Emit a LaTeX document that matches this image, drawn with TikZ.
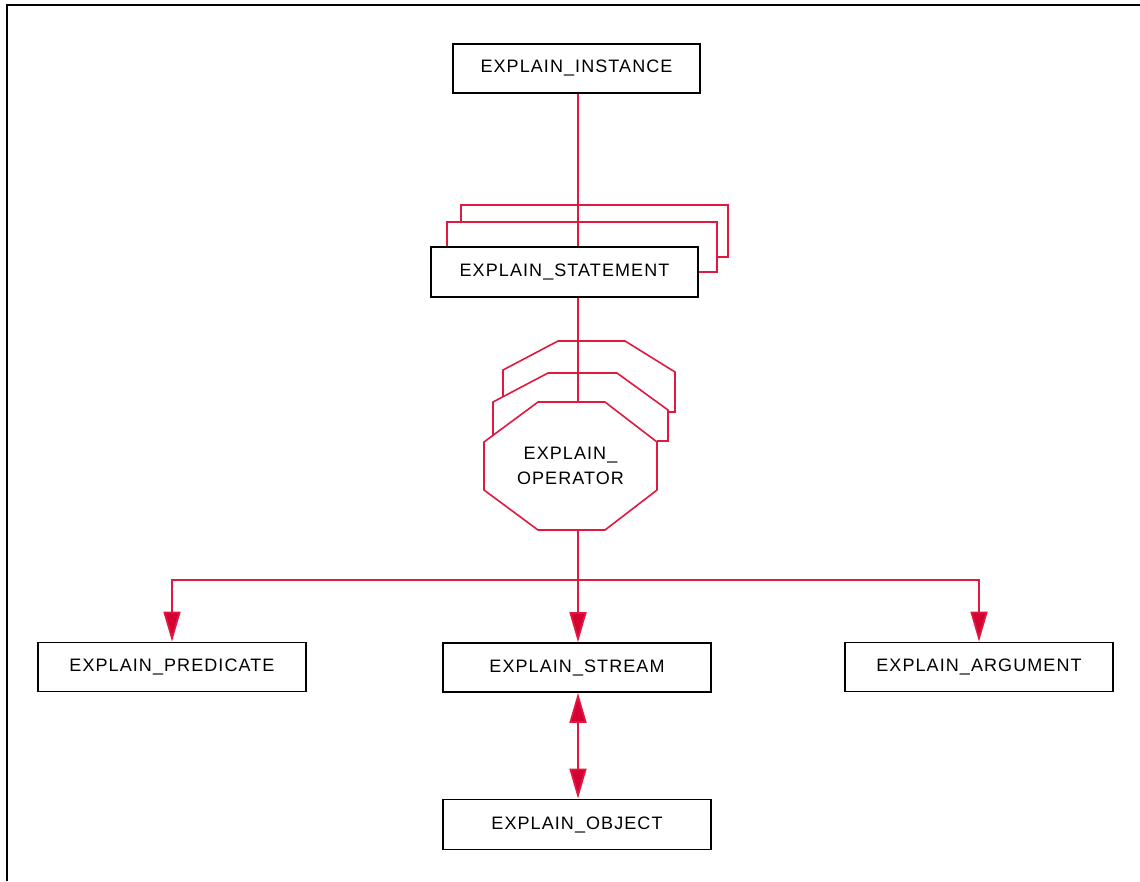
\documentclass[tikz,border=0pt]{standalone}
\usepackage{fontspec}
\setmainfont{Liberation Sans}[LetterSpace=6]
\usetikzlibrary{arrows.meta}
\definecolor{linkred}{RGB}{225,25,65}
\definecolor{tipred}{RGB}{212,0,50}
\tikzset{
  entity/.style={draw=black, line width=1.8pt, fill=white, inner sep=0pt,
    minimum width=268pt, minimum height=49pt, font=\fontsize{18}{20}\selectfont},
  shadowline/.style={draw=linkred, line width=1.6pt, line join=miter},
  link/.style={draw=linkred, line width=1.8pt},
  linkarrow/.style={link, -{Triangle[width=17pt,length=30pt,fill=tipred]}},
  linkboth/.style={link, {Triangle[width=17pt,length=30pt,fill=tipred]}-{Triangle[width=17pt,length=30pt,fill=tipred]}},
  optext/.style={inner sep=0pt, minimum width=173pt, minimum height=128pt,
    align=center, font=\fontsize{18}{25}\selectfont}
}
\begin{document}
\begin{tikzpicture}[x=1pt,y=-1pt]
\useasboundingbox (0,0) rectangle (1140,881);
\fill[white] (0,0) rectangle (1140,881);

% outer frame (left and top edges only)
\draw[line width=1.8pt] (7,881) -- (7,5) -- (1140,5);

% vertical spine of the hierarchy
\coordinate (spine) at (578,0);

% stacked copies behind EXPLAIN_STATEMENT
\draw[shadowline] (461,222) -- (461,205) -- (728,205) -- (728,257) -- (717,257);
\draw[shadowline] (447,247) -- (447,222) -- (717,222) -- (717,272) -- (698,272);

% stacked copies behind EXPLAIN_OPERATOR
\draw[shadowline] (503,397) -- (503,370) -- (558,341) -- (625,341) -- (675,372) -- (675,412) -- (668,412);
\draw[shadowline] (493,435) -- (493,402) -- (548,373) -- (617,373) -- (668,410) -- (668,441) -- (657,441);

% octagon of EXPLAIN_OPERATOR
\draw[shadowline, fill=white] (538,402) -- (605,402) -- (657,442) -- (657,490) -- (605,530)
  -- (538,530) -- (484,490) -- (484,442) -- cycle;
\node[optext] (op) at (570.5,466) {EXPLAIN\_\\OPERATOR};

% entity boxes
\node[entity, minimum width=247pt] (inst) at (576.5,68.5) {EXPLAIN\_INSTANCE};
\node[entity, minimum width=267pt, minimum height=50pt] (stmt) at (564.5,272) {EXPLAIN\_STATEMENT};
\node[entity] (pred) at (172,667) {EXPLAIN\_PREDICATE};
\node[entity] (stream) at (577,667.5) {EXPLAIN\_STREAM};
\node[entity] (arg) at (979,667) {EXPLAIN\_ARGUMENT};
\node[entity, minimum height=50pt] (obj) at (577,824.5) {EXPLAIN\_OBJECT};

% connectors
\draw[link] (inst.south -| spine) -- (stmt.north -| spine);
\draw[link] (stmt.south -| spine) -- (op.north -| spine);
\draw[link] (op.south -| spine) -- ++(0,50) coordinate (bus);
\draw[linkarrow] (bus) -| (pred.north);
\draw[linkarrow] (bus) -- (stream.north -| spine);
\draw[linkarrow] (bus) -| (arg.north);
\draw[linkboth] (stream.south -| spine) -- (obj.north -| spine);
\end{tikzpicture}
\end{document}
